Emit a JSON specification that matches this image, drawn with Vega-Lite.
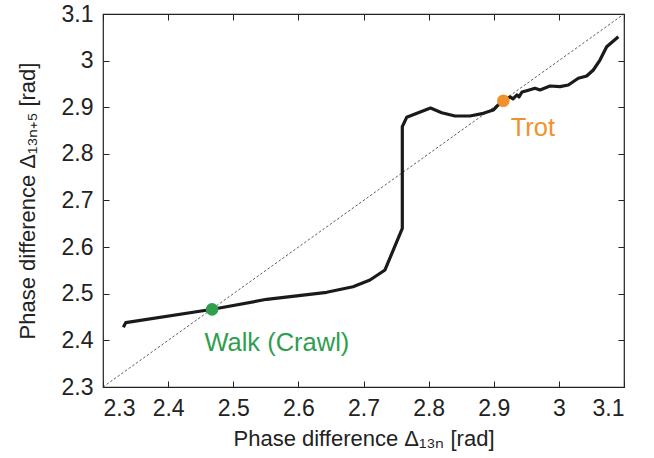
{
  "$schema": "https://vega.github.io/schema/vega-lite/v6.json",
  "width": 521,
  "height": 373,
  "autosize": "none",
  "padding": {"left": 103, "top": 14, "right": 30, "bottom": 71},
  "background": "white",
  "config": {
    "view": {"stroke": "#222", "strokeWidth": 1.2},
    "font": "Liberation Sans",
    "axis": {
      "grid": false,
      "domain": false,
      "tickColor": "#222",
      "tickSize": -6,
      "labelFont": "Liberation Sans",
      "labelFontSize": 23,
      "labelColor": "#222",
      "titleFont": "Liberation Sans",
      "titleFontSize": 22,
      "titleFontWeight": "normal",
      "titleColor": "#222"
    }
  },
  "datasets": {
    "curve": [
      {"x": 2.3312, "y": 2.428},
      {"x": 2.3349, "y": 2.4379},
      {"x": 2.4684, "y": 2.4667},
      {"x": 2.5514, "y": 2.4881},
      {"x": 2.6435, "y": 2.5031},
      {"x": 2.6839, "y": 2.5151},
      {"x": 2.71, "y": 2.5295},
      {"x": 2.733, "y": 2.551},
      {"x": 2.7596, "y": 2.6404},
      {"x": 2.7596, "y": 2.8583},
      {"x": 2.7663, "y": 2.8784},
      {"x": 2.8029, "y": 2.8984},
      {"x": 2.8201, "y": 2.8883},
      {"x": 2.8405, "y": 2.8812},
      {"x": 2.8635, "y": 2.8812},
      {"x": 2.884, "y": 2.887},
      {"x": 2.8993, "y": 2.8941},
      {"x": 2.907, "y": 2.9049},
      {"x": 2.9147, "y": 2.914},
      {"x": 2.9173, "y": 2.9156},
      {"x": 2.925, "y": 2.9221},
      {"x": 2.9296, "y": 2.9178},
      {"x": 2.9357, "y": 2.9264},
      {"x": 2.9388, "y": 2.9221},
      {"x": 2.9434, "y": 2.9328},
      {"x": 2.9506, "y": 2.9355},
      {"x": 2.9633, "y": 2.9406},
      {"x": 2.971, "y": 2.937},
      {"x": 2.9864, "y": 2.9456},
      {"x": 3.0017, "y": 2.9441},
      {"x": 3.0145, "y": 2.9477},
      {"x": 3.0298, "y": 2.9621},
      {"x": 3.0427, "y": 2.967},
      {"x": 3.0529, "y": 2.9799},
      {"x": 3.0631, "y": 3.0013},
      {"x": 3.0734, "y": 3.0299},
      {"x": 3.0913, "y": 3.0513}
    ],
    "diag": [
      {"x": 2.3, "y": 2.3},
      {"x": 3.1, "y": 3.1}
    ],
    "points": [
      {"x": 2.4675, "y": 2.4665, "gait": "Walk (Crawl)", "lx": 2.567, "ly": 2.394},
      {"x": 2.9147, "y": 2.914, "gait": "Trot", "lx": 2.96, "ly": 2.8555}
    ]
  },
  "layer": [
    {
      "data": {"name": "diag"},
      "mark": {"type": "line", "color": "#333", "strokeWidth": 0.8, "strokeDash": [2.5, 2]},
      "encoding": {
        "x": {"field": "x", "type": "quantitative", "scale": {"domain": [2.3, 3.1], "nice": false, "zero": false},
              "axis": {"values": [2.3, 2.4, 2.5, 2.6, 2.7, 2.8, 2.9, 3, 3.1], "format": "~g", "ticks": false, "labelPadding": 10, "title": "Phase difference Δ₁₃ₙ [rad]", "titlePadding": 8}},
        "y": {"field": "y", "type": "quantitative", "scale": {"domain": [2.3, 3.1], "nice": false, "zero": false},
              "axis": {"values": [2.3, 2.4, 2.5, 2.6, 2.7, 2.8, 2.9, 3, 3.1], "format": "~g", "ticks": false, "labelPadding": 10, "title": "Phase difference Δ₁₃ₙ₊₅ [rad]", "titlePadding": 22}}
      }
    },
    {
      "data": {"name": "curve"},
      "mark": {"type": "line", "color": "#1a1a1a", "strokeWidth": 3.2, "strokeJoin": "round"},
      "encoding": {
        "x": {"field": "x", "type": "quantitative", "axis": null},
        "y": {"field": "y", "type": "quantitative", "axis": null},
        "order": {"value": 0}
      }
    },
    {
      "data": {"name": "points"},
      "mark": {"type": "circle", "size": 160, "opacity": 1},
      "encoding": {
        "x": {"field": "x", "type": "quantitative", "axis": null},
        "y": {"field": "y", "type": "quantitative", "axis": null},
        "color": {"field": "gait", "type": "nominal", "scale": {"domain": ["Walk (Crawl)", "Trot"], "range": ["#2f9e4e", "#f0922c"]}, "legend": null}
      }
    },
    {
      "data": {"name": "points"},
      "mark": {"type": "text", "fontSize": 25.5, "font": "Liberation Sans", "align": "center", "baseline": "middle"},
      "encoding": {
        "x": {"field": "lx", "type": "quantitative", "axis": null},
        "y": {"field": "ly", "type": "quantitative", "axis": null},
        "text": {"field": "gait"},
        "color": {"field": "gait", "type": "nominal", "legend": null}
      }
    },
    {
      "data": {"name": "diag"},
      "mark": {"type": "point", "opacity": 0},
      "encoding": {
        "x": {"field": "x", "type": "quantitative", "axis": {"orient": "top", "values": [2.3, 2.4, 2.5, 2.6, 2.7, 2.8, 2.9, 3, 3.1], "labels": false, "title": null}},
        "y": {"field": "y", "type": "quantitative", "axis": {"orient": "right", "values": [2.3, 2.4, 2.5, 2.6, 2.7, 2.8, 2.9, 3, 3.1], "labels": false, "title": null}}
      }
    },
    {
      "data": {"name": "diag"},
      "mark": {"type": "point", "opacity": 0},
      "encoding": {
        "x": {"field": "x", "type": "quantitative", "axis": {"orient": "bottom", "values": [2.3, 2.4, 2.5, 2.6, 2.7, 2.8, 2.9, 3, 3.1], "labels": false, "title": null}},
        "y": {"field": "y", "type": "quantitative", "axis": {"orient": "left", "values": [2.3, 2.4, 2.5, 2.6, 2.7, 2.8, 2.9, 3, 3.1], "labels": false, "title": null}}
      }
    }
  ],
  "resolve": {"axis": {"x": "independent", "y": "independent"}}
}
